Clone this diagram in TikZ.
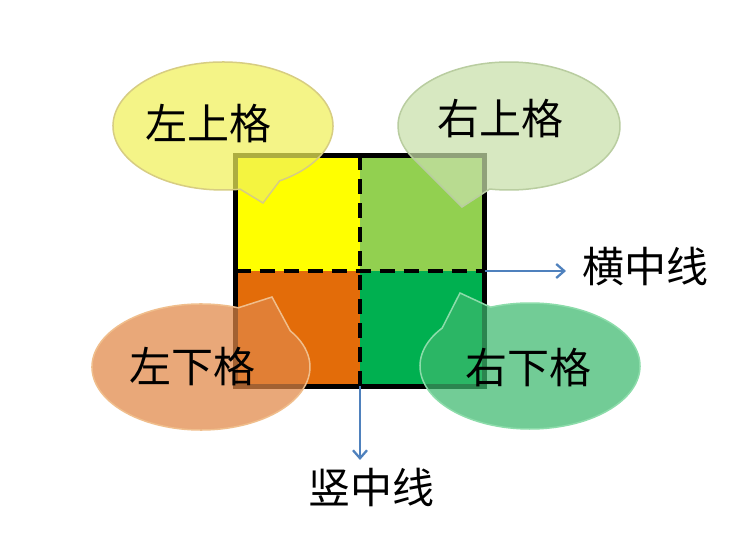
\documentclass[tikz,border=0pt]{standalone}
\usepackage{fontspec}
\newfontfamily\cjk{Noto Sans CJK SC}
\usetikzlibrary{arrows.meta}
\definecolor{qyellow}{RGB}{255,255,0}
\definecolor{qlgreen}{RGB}{146,208,80}
\definecolor{qorange}{RGB}{227,108,9}
\definecolor{qgreen}{RGB}{0,176,80}
\definecolor{tlfill}{RGB}{240,240,90}
\definecolor{tldraw}{RGB}{215,205,130}
\definecolor{trfill}{RGB}{200,224,170}
\definecolor{trdraw}{RGB}{185,205,160}
\definecolor{blfill}{RGB}{225,135,70}
\definecolor{bldraw}{RGB}{240,190,140}
\definecolor{brfill}{RGB}{60,185,110}
\definecolor{brdraw}{RGB}{140,220,170}
\definecolor{arrowblue}{RGB}{79,129,189}
\begin{document}
\begin{tikzpicture}[x=1pt,y=1pt,
  lbl/.style={font=\cjk\fontsize{42}{50}\selectfont, text=black, inner sep=0pt},
  callout/.style={line width=1.5pt, fill opacity=0.72},
  midline/.style={line width=4pt, dash pattern=on 15pt off 9pt},
  axisarrow/.style={draw=arrowblue, line width=2.3pt, -{Straight Barb[length=8pt,width=14pt]}}]
\useasboundingbox (0,0) rectangle (732,533);
\fill[white] (0,0) rectangle (732,533);
% quadrants
\coordinate (sqSW) at (235.5,146.5);
\coordinate (sqNE) at (484.5,377.5);
\coordinate (sqC) at (360,262);
\fill[qyellow] (235.5,262) rectangle (360,377.5);
\fill[qlgreen] (360,262) rectangle (484.5,377.5);
\fill[qorange] (235.5,146.5) rectangle (360,262);
\fill[qgreen] (360,146.5) rectangle (484.5,262);
\draw[midline] (360,377.5) -- (360,146.5);
\draw[midline] (235.5,262) -- (484.5,262);
\draw[line width=5pt] (sqSW) rectangle (sqNE);
% axis arrows
\coordinate (hstart) at (484.5,262);
\coordinate (hend) at (566,262);
\coordinate (vstart) at (360,146.5);
\coordinate (vend) at (360,73);
\draw[axisarrow] (hstart) -- (hend);
\draw[axisarrow] (vstart) -- (vend);
\node[lbl] (hlab) at (645,266) {横中线};
\node[lbl] (vlab) at (371,46) {竖中线};
% callouts
\filldraw[callout, fill=tlfill, draw=tldraw] (223,407) ++(-59:110 and 64)
  arc[start angle=-59, end angle=279, x radius=110, y radius=64] -- (263,330) -- cycle;
\filldraw[callout, fill=trfill, draw=trdraw] (509,407) ++(260:111 and 64)
  arc[start angle=260, end angle=572, x radius=111, y radius=64] -- (462,326) -- cycle;
\filldraw[callout, fill=blfill, draw=bldraw] (201,166) ++(70:109 and 63)
  arc[start angle=70, end angle=395, x radius=109, y radius=63] -- (272,236) -- cycle;
\filldraw[callout, fill=brfill, draw=brdraw] (530,167) ++(143:110 and 63)
  arc[start angle=143, end angle=471, x radius=110, y radius=63] -- (460,240) -- cycle;
\node[lbl] (tl) at (208,409) {左上格};
\node[lbl] (tr) at (500,414) {右上格};
\node[lbl] (bl) at (192,166) {左下格};
\node[lbl] (br) at (528,165) {右下格};
\end{tikzpicture}
\end{document}
